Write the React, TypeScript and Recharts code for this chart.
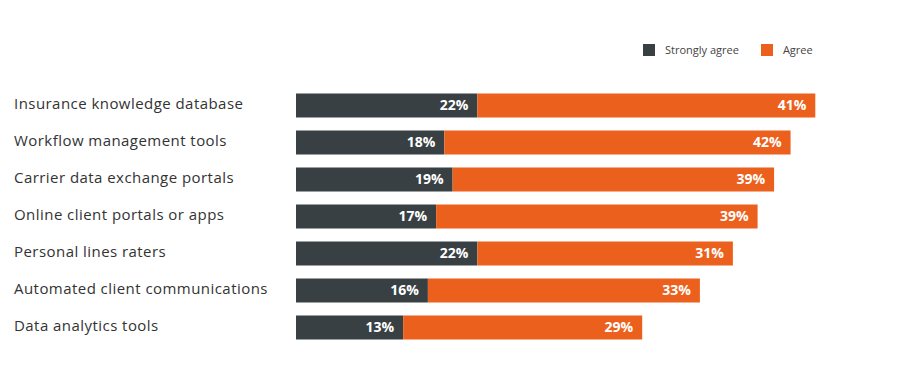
import { BarChart, Bar, XAxis, YAxis, LabelList } from 'recharts'

const categories = [
    'Insurance knowledge database',
    'Workflow management tools',
    'Carrier data exchange portals',
    'Online client portals or apps',
    'Personal lines raters',
    'Automated client communications',
    'Data analytics tools',
]
const stronglyAgree = [22, 18, 19, 17, 22, 16, 13]
const agree = [41, 42, 39, 39, 31, 33, 29]

const DARK = '#394043'
const ORANGE = '#ec601d'
const FONT = '"Open Sans", Lato, sans-serif'

const data = categories.map((name, i) => ({
    name,
    strongly: stronglyAgree[i],
    agree: agree[i],
}))

const CategoryTick = ({ y, payload }: any) => (
    <text
        x={14}
        y={y}
        dy={4}
        textAnchor="start"
        fill="#333"
        fontSize={15}
        letterSpacing={0.45}
        fontFamily={FONT}
    >
        {payload.value}
    </text>
)

const pct = (v: any) => `${v}%`

export default function App() {
    return (
        <div style={{ position: 'absolute', left: 0, top: 0, width: 920, height: 383, background: '#fff' }}>
            {/* legend drawn on top so it doesn't eat plot space */}
            <div
                style={{
                    position: 'absolute',
                    left: 643,
                    top: 42,
                    display: 'flex',
                    alignItems: 'center',
                    fontFamily: FONT,
                    fontSize: 11,
                    color: '#444',
                }}
            >
                <span style={{ width: 12, height: 12, background: DARK, display: 'inline-block', marginRight: 10 }} />
                <span style={{ marginRight: 22 }}>Strongly agree</span>
                <span style={{ width: 12, height: 12, background: ORANGE, display: 'inline-block', marginRight: 10 }} />
                <span>Agree</span>
            </div>
            <BarChart
                width={920}
                height={383}
                data={data}
                layout="vertical"
                margin={{ top: 86.5, right: 47, bottom: 37.5, left: 0 }}
                barSize={24}
            >
                <XAxis type="number" domain={[0, 70]} hide height={0} />
                <YAxis
                    type="category"
                    dataKey="name"
                    width={296}
                    axisLine={false}
                    tickLine={false}
                    tick={<CategoryTick />}
                />
                <Bar dataKey="strongly" stackId="a" fill={DARK} isAnimationActive={false}>
                    <LabelList
                        dataKey="strongly"
                        position="insideRight"
                        offset={9}
                        fill="#fff"
                        fontSize={14}
                        fontWeight={700}
                        fontFamily={FONT}
                        formatter={pct}
                    />
                </Bar>
                <Bar dataKey="agree" stackId="a" fill={ORANGE} isAnimationActive={false}>
                    <LabelList
                        dataKey="agree"
                        position="insideRight"
                        offset={9}
                        fill="#fff"
                        fontSize={14}
                        fontWeight={700}
                        fontFamily={FONT}
                        formatter={pct}
                    />
                </Bar>
            </BarChart>
        </div>
    )
}
